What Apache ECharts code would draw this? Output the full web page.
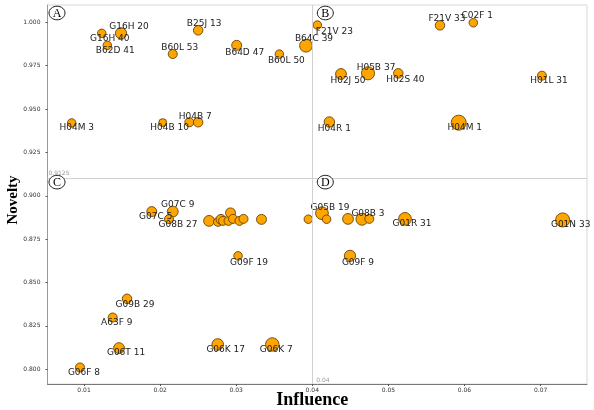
<!DOCTYPE html>
<html><head><meta charset="utf-8">
<script src="https://cdn.jsdelivr.net/npm/echarts@6/dist/echarts.min.js"></script>
<style>html,body{margin:0;padding:0;background:#fff}#c{width:594px;height:410px}</style>
</head><body><div id="c"></div>
<script>
// ---- data ----
const names = [
  'G16H 40','G16H 20','B62D 41','B60L 53','B25J 13','B64D 47','B60L 50','B64C 39','H04M 3','H04B 10','H04B 7','',
  'F21V 23','F21V 33','C02F 1','H02J 50','H05B 37','H02S 40','H01L 31','H04R 1','H04M 1',
  'G07C 5','G07C 9','G08B 27','','','','','','','','','','','','G09F 19','G09B 29','A63F 9','G06T 11','G06K 17','G06K 7','G06F 8',
  'G05B 19','','','G08B 3','','G01R 31','G01N 33','G09F 9'
];
const influence = [
  0.01233,0.01486,0.01306,0.02166,0.02500,0.03006,0.03567,0.03917,0.00838,0.02034,0.02384,0.02500,
  0.04066,0.05678,0.06116,0.04377,0.04732,0.05130,0.07018,0.04224,0.05924,
  0.01890,0.02166,0.02117,0.02643,0.02761,0.02800,0.02827,0.02899,0.02925,0.02958,0.03043,0.03096,0.03332,0.03948,0.03024,0.01565,0.01377,0.01460,0.02757,0.03474,0.00947,
  0.04127,0.04188,0.04469,0.04653,0.04749,0.05218,0.07290,0.04495
];
const novelty = [
  0.99366,0.99370,0.98675,0.98174,0.99540,0.98675,0.98170,0.98652,0.94200,0.94220,0.94240,0.94240,
  0.99845,0.99827,0.99977,0.97022,0.97062,0.97060,0.96924,0.94257,0.94217,
  0.89090,0.89090,0.88652,0.88554,0.88497,0.88640,0.88554,0.88554,0.89015,0.88669,0.88554,0.88669,0.88640,0.88652,0.86538,0.84060,0.82984,0.81221,0.81429,0.81430,0.80104,
  0.88998,0.88650,0.88669,0.88650,0.88670,0.88670,0.88610,0.86538
];
const weight = [
  8,14,8,9,10,11,8,18,8,7,9,10,
  8,10,8,13,19,10,9,12,25,
  11,13,9,13,9,11,9,9,11,9,9,9,11,8,8,10,9,13,15,20,9,
  18,8,13,16,9,18,22,14
];
const xTicks = [0.01,0.02,0.03,0.04,0.05,0.06,0.07];
const yTicks = [0.800,0.825,0.850,0.875,0.900,0.925,0.950,0.975,1.000];
const xSplit = 0.04, ySplit = 0.9125;
const quadrants = ['A','B','C','D'];

// ---- styling (label placement offsets, px) ----
const labelOffsets = {
  'G16H 40':[8,5],'G16H 20':[8,-7],'B62D 41':[8,5],'B60L 53':[7,-6],'B25J 13':[6,-7],'B64D 47':[8,7],
  'B60L 50':[7,7],'B64C 39':[8,-7],'H04M 3':[5,5],'H04B 10':[7,5],'H04B 7':[6,-6],
  'F21V 23':[17,7],'F21V 33':[7,-7],'C02F 1':[4,-7],'H02J 50':[7,7],'H05B 37':[8,-6],'H02S 40':[7,6],
  'H01L 31':[7,5],'H04R 1':[5,7],'H04M 1':[6,5],
  'G07C 9':[5,-7],'G07C 5':[4,5],'G08B 27':[9,5],'G09F 19':[11,7],'G09B 29':[8,6],'A63F 9':[4,5],
  'G06T 11':[7,5],'G06K 17':[8,5],'G06K 7':[4,5],'G06F 8':[4,5],
  'G05B 19':[8,-6],'G08B 3':[6,-6],'G01R 31':[7,5],'G01N 33':[8,5],'G09F 9':[8,7]
};

const xMin = 0.0052, xMax = 0.0761, yMin = 0.7915, yMax = 1.010;

const points = names.map((n, i) => ({
  name: n,
  value: [influence[i], novelty[i], weight[i]],
  label: { show: !!n }
}));

const chart = echarts.init(document.getElementById('c'), null, { renderer: 'canvas' });
const tickFont = { fontSize: 6, color: '#333', fontFamily: 'DejaVu Sans' };
chart.setOption({
  animation: false,
  grid: { left: 47.5, right: 7, top: 5, bottom: 26, containLabel: false, outerBoundsMode: 'none',
          show: true, borderColor: '#d8d8d8', borderWidth: 1 },
  xAxis: {
    type: 'value', min: xMin, max: xMax,
    name: 'Influence', nameLocation: 'middle', nameGap: 7, nameMoveOverlap: false,
    nameTextStyle: { fontFamily: 'Liberation Serif', fontWeight: 'bold', fontSize: 18, color: '#000',
                     verticalAlign: 'top', padding: [0, 10, 0, 0] },
    axisLine: { show: true, lineStyle: { color: '#777', width: 1 } },
    axisTick: { show: true, length: 2, lineStyle: { color: '#555' }, customValues: xTicks },
    axisLabel: Object.assign({ margin: 3, customValues: xTicks, formatter: v => v.toFixed(2) }, tickFont),
    splitLine: { show: false }
  },
  yAxis: {
    type: 'value', min: yMin, max: yMax,
    name: 'Novelty', nameLocation: 'middle', nameGap: 27, nameMoveOverlap: false,
    nameTextStyle: { fontFamily: 'Liberation Serif', fontWeight: 'bold', fontSize: 15, color: '#000',
                     padding: [0, 11, 0, 0] },
    axisLine: { show: true, lineStyle: { color: '#999', width: 1 } },
    axisTick: { show: true, length: 2, lineStyle: { color: '#555' }, customValues: yTicks },
    axisLabel: Object.assign({ margin: 7, customValues: yTicks, formatter: v => v.toFixed(3) }, tickFont),
    splitLine: { show: false }
  },
  series: [
    {
      type: 'scatter', silent: true, data: [],
      markLine: {
        silent: true, symbol: 'none', animation: false,
        lineStyle: { color: '#d0d0d0', width: 1, type: 'solid' },
        label: { show: false },
        data: [{ xAxis: xSplit }, { yAxis: ySplit }]
      }
    },
    {
      type: 'scatter',
      data: points,
      symbolSize: v => 3 * Math.sqrt(v[2]),
      itemStyle: { color: '#FFA500', borderColor: '#6b4200', borderWidth: 0.9, opacity: 1 },
      label: { position: 'inside', fontSize: 9, fontFamily: 'DejaVu Sans', color: '#222', formatter: p => p.name },
      labelLayout: p => {
        const o = labelOffsets[names[p.dataIndex]] || [6, 6];
        return { dx: o[0], dy: o[1], hideOverlap: false };
      },
      z: 3
    }
  ]
});

// quadrant letters and divider values, placed through the axes
const px = (x, y) => chart.convertToPixel({ gridIndex: 0 }, [x, y]);
const corners = [[xMin, yMax, 9.5], [xSplit, yMax, 13], [xMin, ySplit, 9.5], [xSplit, ySplit, 13]];
const g = [];
quadrants.forEach((q, i) => {
  const p = px(corners[i][0], corners[i][1]);
  const cx = p[0] + corners[i][2], cy = p[1] + 8;
  g.push({ type: 'ellipse', shape: { cx: cx, cy: cy, rx: 8, ry: 6.8 }, style: { fill: '#fff', stroke: '#000', lineWidth: 0.9 }, z: 10 });
  g.push({ type: 'text', x: cx, y: cy + 0.5, style: { text: q, font: '12px "Liberation Serif"', fill: '#000', align: 'center', verticalAlign: 'middle' }, z: 11 });
});
const pY = px(xMin, ySplit);
g.push({ type: 'text', x: pY[0] + 1, y: pY[1] - 0.5, style: { text: String(ySplit), font: '6px "DejaVu Sans"', fill: '#999', align: 'left', verticalAlign: 'middle' }, z: 10 });
const pX = px(xSplit, yMin);
g.push({ type: 'text', x: pX[0] + 4, y: pX[1] - 4, style: { text: String(xSplit), font: '6px "DejaVu Sans"', fill: '#999', align: 'left', verticalAlign: 'middle' }, z: 10 });
chart.setOption({ graphic: g });
</script>
</body></html>
